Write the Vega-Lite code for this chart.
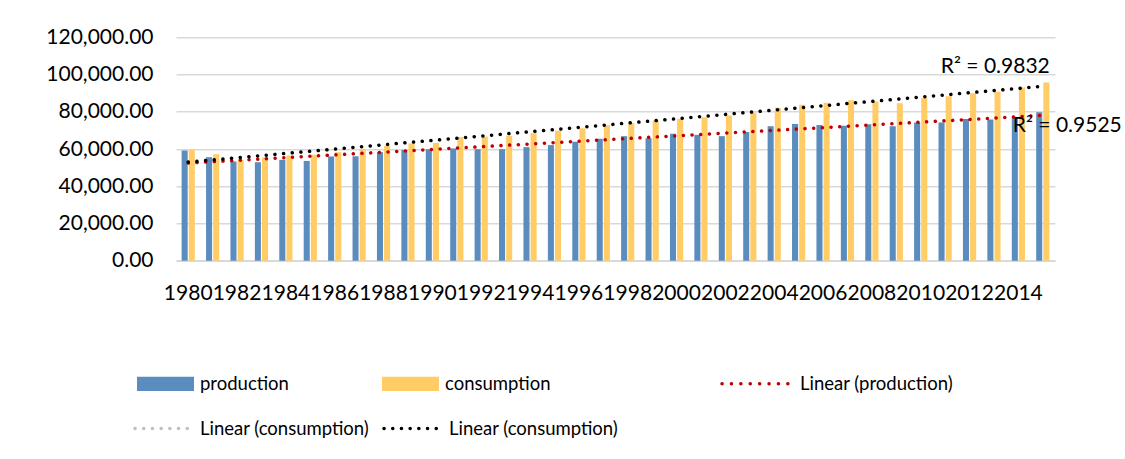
{
  "$schema": "https://vega.github.io/schema/vega-lite/v6.json",
  "width": 879,
  "height": 223.4,
  "autosize": {"type": "none"},
  "padding": {"left": 176, "top": 37.3, "right": 70, "bottom": 198.3},
  "background": "white",
  "config": {
    "view": {"stroke": null},
    "font": "Lato",
    "axis": {"labelFont": "Lato", "labelColor": "#000000", "labelFontSize": 21, "ticks": false, "tickSize": 0, "title": null},
    "legend": {"labelFont": "Lato", "labelColor": "#000000", "labelFontSize": 18.5, "labelLimit": 400, "padding": 0, "title": null}
  },
  "data": {
    "values": [
      {"year": 1980, "production": 59200, "consumption": 59500},
      {"year": 1981, "production": 55600, "consumption": 57200},
      {"year": 1982, "production": 53300, "consumption": 54200},
      {"year": 1983, "production": 52900, "consumption": 55400},
      {"year": 1984, "production": 54200, "consumption": 56500},
      {"year": 1985, "production": 53600, "consumption": 56900},
      {"year": 1986, "production": 56000, "consumption": 58300},
      {"year": 1987, "production": 56100, "consumption": 59900},
      {"year": 1988, "production": 58300, "consumption": 61700},
      {"year": 1989, "production": 59500, "consumption": 63000},
      {"year": 1990, "production": 59900, "consumption": 63300},
      {"year": 1991, "production": 60300, "consumption": 66400},
      {"year": 1992, "production": 59900, "consumption": 66600},
      {"year": 1993, "production": 59900, "consumption": 67100},
      {"year": 1994, "production": 61000, "consumption": 68500},
      {"year": 1995, "production": 62100, "consumption": 69800},
      {"year": 1996, "production": 63900, "consumption": 71200},
      {"year": 1997, "production": 65500, "consumption": 72800},
      {"year": 1998, "production": 66900, "consumption": 73900},
      {"year": 1999, "production": 65800, "consumption": 75300},
      {"year": 2000, "production": 68200, "consumption": 76200},
      {"year": 2001, "production": 67600, "consumption": 77000},
      {"year": 2002, "production": 66900, "consumption": 78000},
      {"year": 2003, "production": 69100, "consumption": 79500},
      {"year": 2004, "production": 72200, "consumption": 82200},
      {"year": 2005, "production": 73400, "consumption": 83800},
      {"year": 2006, "production": 72900, "consumption": 84900},
      {"year": 2007, "production": 72500, "consumption": 86200},
      {"year": 2008, "production": 73300, "consumption": 85500},
      {"year": 2009, "production": 72200, "consumption": 84600},
      {"year": 2010, "production": 74300, "consumption": 87400},
      {"year": 2011, "production": 74300, "consumption": 88300},
      {"year": 2012, "production": 76100, "consumption": 90000},
      {"year": 2013, "production": 75800, "consumption": 90800},
      {"year": 2014, "production": 77000, "consumption": 93000},
      {"year": 2015, "production": 79700, "consumption": 95700}
    ]
  },
  "encoding": {
    "x": {
      "field": "year",
      "type": "ordinal",
      "scale": {"paddingInner": 0.46, "paddingOuter": 0.23},
      "axis": {
        "values": [1980, 1982, 1984, 1986, 1988, 1990, 1992, 1994, 1996, 1998, 2000, 2002, 2004, 2006, 2008, 2010, 2012, 2014],
        "labelAngle": 0,
        "labelOverlap": false,
        "labelPadding": 22,
        "domain": true,
        "domainColor": "#D9D9D9",
        "domainWidth": 1.5,
        "grid": false
      }
    },
    "y": {
      "field": "value",
      "type": "quantitative",
      "scale": {"domain": [0, 120000], "nice": false},
      "axis": {
        "values": [0, 20000, 40000, 60000, 80000, 100000, 120000],
        "format": ",.2f",
        "grid": true,
        "gridColor": "#D9D9D9",
        "gridWidth": 1.5,
        "domain": false,
        "labelPadding": 23
      }
    }
  },
  "layer": [
    {
      "transform": [{"fold": ["production", "consumption"], "as": ["key", "value"]}],
      "mark": {"type": "bar"},
      "encoding": {
        "xOffset": {"field": "key", "type": "nominal", "scale": {"domain": ["production", "consumption"], "paddingInner": 0.15}},
        "fill": {
          "field": "key",
          "type": "nominal",
          "scale": {"domain": ["production", "consumption"], "range": ["#5A8CBE", "#FFCC66"]},
          "legend": {
            "orient": "none",
            "legendX": -39,
            "legendY": 318,
            "direction": "horizontal",
            "columns": 2,
            "columnPadding": 93,
            "symbolType": "M-1,-0.25L1,-0.25L1,0.25L-1,0.25Z",
            "symbolSize": 3249,
            "symbolStrokeWidth": 0,
            "labelOffset": 6
          }
        }
      }
    },
    {
      "transform": [
        {"fold": ["production", "consumption"], "as": ["key", "value"]},
        {"filter": {"field": "key", "equal": "production"}},
        {"regression": "value", "on": "year"}
      ],
      "mark": {"type": "line", "strokeDash": [0.1, 8.6], "strokeCap": "round", "strokeWidth": 3.5},
      "encoding": {
        "stroke": {
          "datum": "Linear (production)",
          "type": "nominal",
          "scale": {"domain": ["Linear (production)"], "range": ["#C00000"]},
          "legend": {
            "orient": "none",
            "legendX": 544,
            "legendY": 311.4,
            "symbolType": "stroke",
            "symbolSize": 4356,
            "symbolStrokeWidth": 3.5,
            "symbolDash": [0.1, 9.3],
            "labelOffset": 10,
            "encode": {"symbols": {"update": {"strokeCap": {"value": "round"}}}}
          }
        }
      }
    },
    {
      "transform": [
        {"fold": ["production", "consumption"], "as": ["key", "value"]},
        {"filter": {"field": "key", "equal": "consumption"}},
        {"regression": "value", "on": "year"}
      ],
      "mark": {"type": "line", "stroke": "#000000", "strokeCap": "round", "strokeWidth": 3.5},
      "encoding": {
        "strokeDash": {
          "datum": "Linear (consumption)",
          "type": "nominal",
          "scale": {"domain": ["hidden", "Linear (consumption)"], "range": [[0.1, 8.6], [0.1, 8.6]]},
          "legend": {
            "orient": "none",
            "legendX": -43,
            "legendY": 361,
            "direction": "horizontal",
            "columns": 2,
            "columnPadding": 7,
            "symbolType": "stroke",
            "symbolSize": 3136,
            "symbolStrokeWidth": 3.5,
            "symbolStrokeColor": "#000000",
            "labelOffset": 7,
            "labelExpr": "'Linear (consumption)'",
            "encode": {"symbols": {"update": {"strokeCap": {"value": "round"}, "strokeWidth": {"value": 3.5}, "stroke": {"signal": "datum.value === 'hidden' ? '#BFBFBF' : '#000000'"}, "strokeDash": {"value": [0.1, 9]}, "opacity": {"value": 1}, "strokeOpacity": {"value": 1}}}}
          }
        }
      }
    },
    {
      "data": {"values": [{"year": 2015, "value": 100700, "label": "R² = 0.9832"}]},
      "mark": {"type": "text", "align": "right", "baseline": "alphabetic", "dx": 7, "fontSize": 21, "font": "Lato", "color": "#000000"},
      "encoding": {"text": {"field": "label"}}
    },
    {
      "data": {"values": [{"year": 2015, "value": 69300, "label": "R² = 0.9525"}]},
      "mark": {"type": "text", "align": "left", "baseline": "alphabetic", "dx": -30, "fontSize": 21, "font": "Lato", "color": "#000000"},
      "encoding": {"text": {"field": "label"}}
    }
  ]
}
